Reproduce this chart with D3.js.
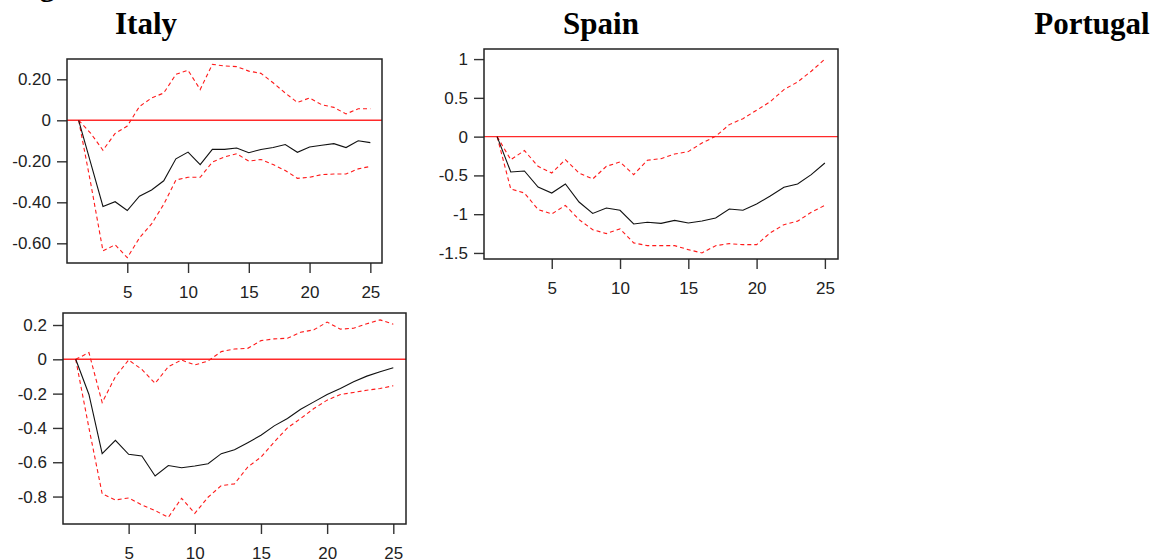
<!DOCTYPE html>
<html>
<head>
<meta charset="utf-8">
<script src="https://cdn.jsdelivr.net/npm/d3@7"></script>
<style>
  body { margin: 0; background: #fff; }
  svg { display: block; }
</style>
</head>
<body>
<svg id="chart"></svg>
<script>
var width = 1154;
var height = 560;

var periods = [1, 2, 3, 4, 5, 6, 7, 8, 9, 10, 11, 12, 13, 14, 15, 16, 17, 18, 19, 20, 21, 22, 23, 24, 25];
var xTicks = [5, 10, 15, 20, 25];

// Italy, first row
var italyIrf = [0, -0.21, -0.42, -0.397, -0.44, -0.37, -0.34, -0.295, -0.188, -0.155, -0.216, -0.142, -0.142,
    -0.135, -0.158, -0.142, -0.133, -0.118, -0.156, -0.13, -0.122, -0.114, -0.133, -0.10, -0.109];
var italyUpper = [0, -0.064, -0.146, -0.064, -0.028, 0.067, 0.109, 0.133, 0.224, 0.244, 0.15, 0.273, 0.265,
    0.262, 0.24, 0.229, 0.183, 0.133, 0.087, 0.109, 0.076, 0.063, 0.031, 0.056, 0.056];
var italyLower = [0, -0.31, -0.637, -0.607, -0.67, -0.574, -0.505, -0.41, -0.291, -0.278, -0.278, -0.204, -0.179,
    -0.163, -0.199, -0.191, -0.216, -0.245, -0.283, -0.278, -0.265, -0.262, -0.262, -0.237, -0.225];
var italyTicks = [0.2, 0, -0.2, -0.4, -0.6];
var italyTickLabels = ["0.20", "0", "-0.20", "-0.40", "-0.60"];

// Spain, first row
var spainIrf = [0, -0.456, -0.443, -0.65, -0.727, -0.61, -0.843, -0.99, -0.92, -0.95, -1.126, -1.105, -1.118,
    -1.08, -1.114, -1.088, -1.049, -0.933, -0.95, -0.868, -0.765, -0.653, -0.61, -0.49, -0.34];
var spainUpper = [0, -0.297, -0.18, -0.383, -0.469, -0.297, -0.469, -0.546, -0.383, -0.327, -0.49, -0.305, -0.284,
    -0.224, -0.193, -0.082, 0.004, 0.155, 0.232, 0.34, 0.451, 0.606, 0.705, 0.843, 1.0];
var spainLower = [0, -0.675, -0.727, -0.94, -0.997, -0.886, -1.07, -1.2, -1.25, -1.19, -1.37, -1.406, -1.406,
    -1.406, -1.457, -1.5, -1.406, -1.38, -1.393, -1.393, -1.24, -1.135, -1.09, -0.976, -0.886];
var spainTicks = [1, 0.5, 0, -0.5, -1, -1.5];
var spainTickLabels = ["1", "0.5", "0", "-0.5", "-1", "-1.5"];

// Italy, second row
var italy2Irf = [0, -0.205, -0.55, -0.472, -0.554, -0.564, -0.68, -0.619, -0.632, -0.622, -0.609, -0.55, -0.527,
    -0.486, -0.443, -0.388, -0.345, -0.291, -0.248, -0.205, -0.17, -0.131, -0.098, -0.072, -0.049];
var italy2Upper = [0, 0.039, -0.252, -0.101, -0.004, -0.059, -0.14, -0.043, -0.004, -0.033, -0.01, 0.045, 0.06,
    0.064, 0.109, 0.119, 0.123, 0.158, 0.172, 0.217, 0.176, 0.181, 0.207, 0.23, 0.205];
var italy2Lower = [0, -0.40, -0.784, -0.82, -0.808, -0.849, -0.882, -0.921, -0.81, -0.898, -0.804, -0.736, -0.726,
    -0.628, -0.57, -0.482, -0.4, -0.345, -0.287, -0.238, -0.205, -0.193, -0.18, -0.17, -0.154];
var italy2Ticks = [0.2, 0, -0.2, -0.4, -0.6, -0.8];
var italy2TickLabels = ["0.2", "0", "-0.2", "-0.4", "-0.6", "-0.8"];

var titles = ["Italy", "Spain", "Portugal"];

var panels = [
    {irf: italyIrf, upper: italyUpper, lower: italyLower, ticks: italyTicks, labels: italyTickLabels,
        left: 67, right: 382, top: 59, bottom: 263, yDomain: [-0.696, 0.299]},
    {irf: spainIrf, upper: spainUpper, lower: spainLower, ticks: spainTicks, labels: spainTickLabels,
        left: 484, right: 838, top: 49, bottom: 259, yDomain: [-1.578, 1.13]},
    {irf: italy2Irf, upper: italy2Upper, lower: italy2Lower, ticks: italy2Ticks, labels: italy2TickLabels,
        left: 63, right: 406, top: 313, bottom: 524, yDomain: [-0.96, 0.27]}
];

var svg = d3.select("#chart")
    .attr("width", width)
    .attr("height", height)
    .attr("xmlns", "http://www.w3.org/2000/svg");

// leftover of the figure caption, only its descender shows
svg.append("text")
    .attr("x", 13)
    .attr("y", -4)
    .style("font-family", "'Liberation Serif', 'Times New Roman', serif")
    .style("font-weight", "bold")
    .style("font-size", "30px")
    .text("Figure");

var titleX = [146, 601, 1092];
svg.selectAll(".title")
    .data(titles)
    .enter()
    .append("text")
    .attr("class", "title")
    .attr("x", function (d, i) { return titleX[i]; })
    .attr("y", 34)
    .attr("text-anchor", "middle")
    .style("font-family", "'Liberation Serif', 'Times New Roman', serif")
    .style("font-weight", "bold")
    .style("font-size", "31px")
    .text(function (d) { return d; });

function drawPanel(p) {
    var x = d3.scaleLinear().domain([0.04, 25.96]).range([p.left, p.right]);
    var y = d3.scaleLinear().domain(p.yDomain).range([p.bottom, p.top]);
    var g = svg.append("g");

    var xAxis = g.append("g")
        .attr("transform", "translate(0," + p.bottom + ")")
        .call(d3.axisBottom(x).tickValues(xTicks).tickSize(10).tickPadding(13));
    var yAxis = g.append("g")
        .attr("transform", "translate(" + p.left + ",0)")
        .call(d3.axisLeft(y).tickValues(p.ticks).tickSize(10).tickPadding(6)
            .tickFormat(function (d, i) { return p.labels[i]; }));
    [xAxis, yAxis].forEach(function (a) {
        a.select(".domain").remove();
        a.selectAll("line").attr("stroke", "#333").attr("stroke-width", 1.4);
        a.selectAll("text")
            .style("font-family", "'Liberation Sans', Arial, sans-serif")
            .style("font-size", "17px")
            .attr("fill", "#222");
    });

    g.append("line")
        .attr("x1", p.left).attr("x2", p.right)
        .attr("y1", y(0)).attr("y2", y(0))
        .attr("stroke", "#ff2a2a")
        .attr("stroke-width", 1.4);

    var line = d3.line()
        .x(function (d, i) { return x(periods[i]); })
        .y(function (d) { return y(d); });

    [p.upper, p.lower].forEach(function (band) {
        g.append("path")
            .attr("d", line(band))
            .attr("fill", "none")
            .attr("stroke", "#ff1a1a")
            .attr("stroke-width", 1.1)
            .attr("stroke-dasharray", "4,3");
    });
    g.append("path")
        .attr("d", line(p.irf))
        .attr("fill", "none")
        .attr("stroke", "#111")
        .attr("stroke-width", 1.1);

    g.append("rect")
        .attr("x", p.left).attr("y", p.top)
        .attr("width", p.right - p.left)
        .attr("height", p.bottom - p.top)
        .attr("fill", "none")
        .attr("stroke", "#222")
        .attr("stroke-width", 1.5);
}

panels.forEach(drawPanel);
</script>
</body>
</html>
